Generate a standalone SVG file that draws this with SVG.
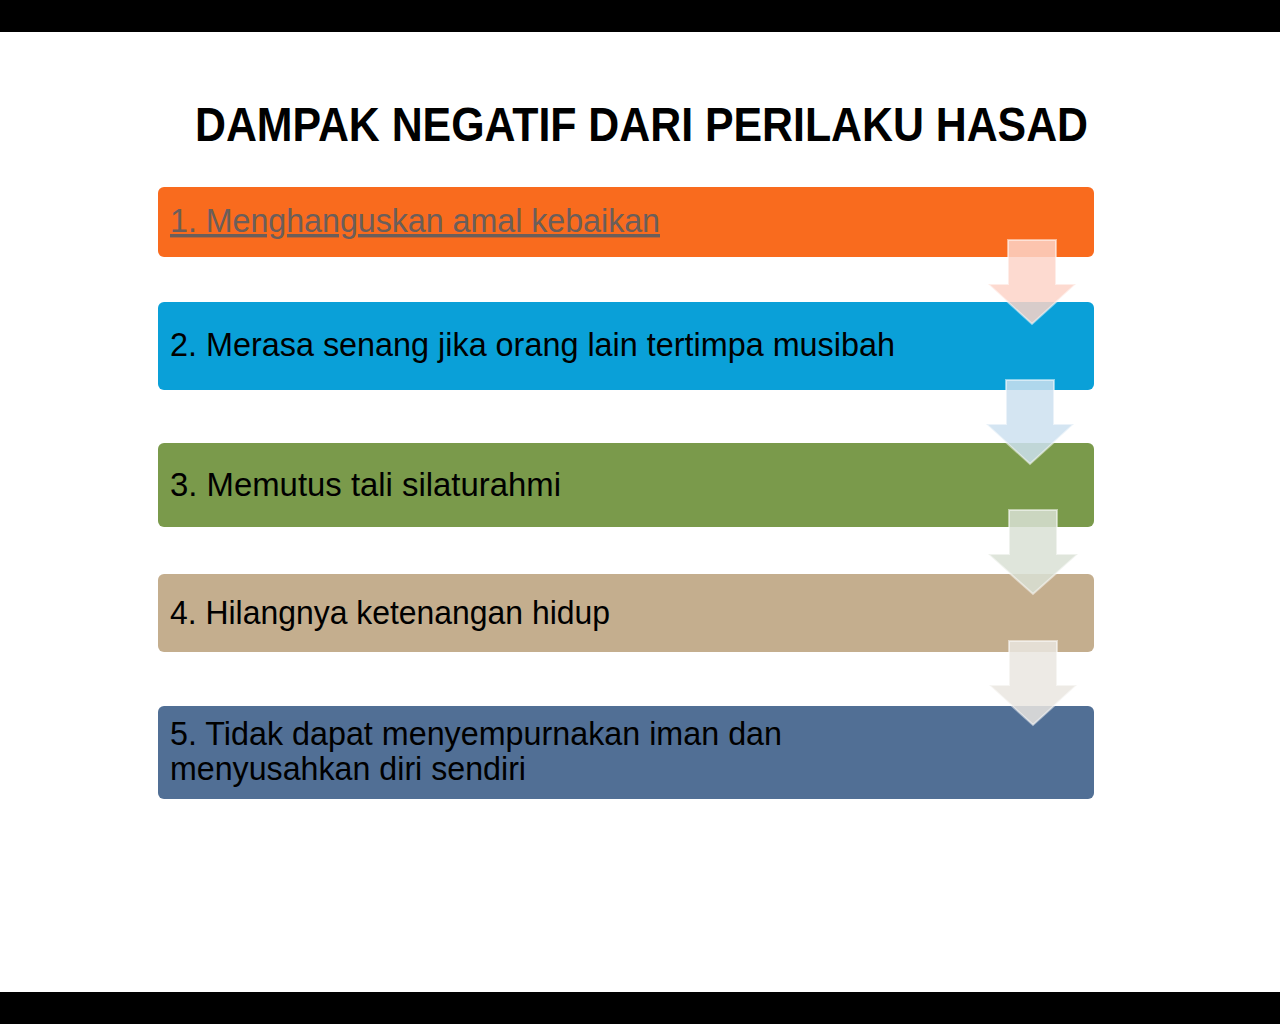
<svg xmlns="http://www.w3.org/2000/svg" width="1280" height="1024" viewBox="0 0 1280 1024">
<style>
.lbl{font-family:"Liberation Sans",Arial,sans-serif;font-size:34px;fill:#000}
.arr{stroke:#ffffff;stroke-opacity:0.5;stroke-width:2;fill-opacity:0.85}
</style>
<rect x="0" y="0" width="1280" height="1024" fill="#ffffff"/>
<rect x="0" y="0" width="1280" height="32" fill="#000"/>
<rect x="0" y="992" width="1280" height="32" fill="#000"/>
<text x="195" y="141" font-family="Liberation Sans,Arial,sans-serif" font-size="48" font-weight="bold" textLength="893" lengthAdjust="spacingAndGlyphs" fill="#000">DAMPAK NEGATIF DARI PERILAKU HASAD</text>
<g id="node1">
<rect x="158" y="187" width="936" height="70" rx="6" fill="#F96B1E"/>
<text class="lbl" x="170" y="232" style="fill:#6B5E5A" text-decoration="underline" textLength="490" lengthAdjust="spacingAndGlyphs">1. Menghanguskan amal kebaikan</text>
</g>
<g id="node2">
<rect x="158" y="302" width="936" height="88" rx="6" fill="#0AA0D8"/>
<text class="lbl" x="170" y="356" textLength="725" lengthAdjust="spacingAndGlyphs">2. Merasa senang jika orang lain tertimpa musibah</text>
</g>
<g id="node3">
<rect x="158" y="443" width="936" height="84" rx="6" fill="#7A9A4B"/>
<text class="lbl" x="170" y="496" textLength="391" lengthAdjust="spacingAndGlyphs">3. Memutus tali silaturahmi</text>
</g>
<g id="node4">
<rect x="158" y="574" width="936" height="78" rx="6" fill="#C4AE8E"/>
<text class="lbl" x="170" y="624" textLength="440" lengthAdjust="spacingAndGlyphs">4. Hilangnya ketenangan hidup</text>
</g>
<g id="node5">
<rect x="158" y="706" width="936" height="93" rx="6" fill="#516F95"/>
<text class="lbl" x="170" y="745" textLength="612" lengthAdjust="spacingAndGlyphs">5. Tidak dapat menyempurnakan iman dan</text>
<text class="lbl" x="170" y="780" textLength="356" lengthAdjust="spacingAndGlyphs">menyusahkan diri sendiri</text>
</g>
<g id="connectors">
<path class="arr" fill="#FDD3C8" d="M1008 240 H1056 V284 H1076 L1032 324 L988 284 H1008 Z"/>
<path class="arr" fill="#CDE0F0" d="M1006 380 H1054 V424 H1074 L1030 464 L986 424 H1006 Z"/>
<path class="arr" fill="#D9E0D5" d="M1009 510 H1057 V554 H1078 L1033 594 L988 554 H1009 Z"/>
<path class="arr" fill="#EAE6E0" d="M1009 641 H1057 V685 H1077 L1033 725 L989 685 H1009 Z"/>
</g>
</svg>
